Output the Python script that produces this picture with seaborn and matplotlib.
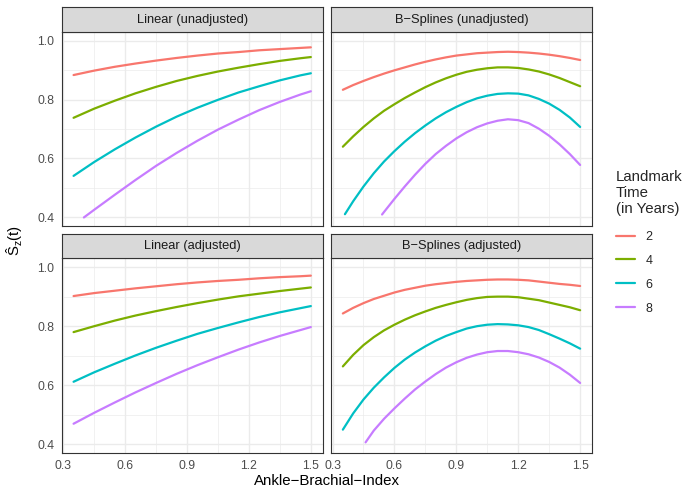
import matplotlib
matplotlib.use("Agg")
import matplotlib.pyplot as plt
from matplotlib.lines import Line2D
from matplotlib.ticker import FixedLocator
import pandas as pd
import seaborn as sns

# ---------------- data ----------------
landmark_times = ["2", "4", "6", "8"]
line_colors = ["#F8766D", "#7CAE00", "#00BFC4", "#C77CFF"]
panel_titles = ["Linear (unadjusted)", "B\u2212Splines (unadjusted)",
                "Linear (adjusted)", "B\u2212Splines (adjusted)"]
x_ticks = [0.3, 0.6, 0.9, 1.2, 1.5]
x_minor = [0.45, 0.75, 1.05, 1.35]
y_ticks = [0.4, 0.6, 0.8, 1.0]
y_minor = [0.5, 0.7, 0.9]

abi_lin = [0.35, 0.45, 0.55, 0.65, 0.75, 0.85, 0.95, 1.05, 1.15, 1.25, 1.35, 1.45, 1.50]
abi_lin_unadj_8 = [0.40, 0.45, 0.55, 0.65, 0.75, 0.85, 0.95, 1.05, 1.15, 1.25, 1.35, 1.45, 1.50]

lin_unadj_2 = [0.883, 0.898, 0.911, 0.922, 0.932, 0.941, 0.949, 0.956, 0.961, 0.967, 0.971, 0.975, 0.977]
lin_unadj_4 = [0.738, 0.769, 0.796, 0.821, 0.843, 0.863, 0.880, 0.895, 0.908, 0.920, 0.931, 0.940, 0.944]
lin_unadj_6 = [0.541, 0.588, 0.631, 0.671, 0.708, 0.742, 0.772, 0.799, 0.824, 0.845, 0.865, 0.882, 0.889]
lin_unadj_8 = [0.400, 0.426, 0.477, 0.527, 0.575, 0.619, 0.660, 0.698, 0.732, 0.764, 0.792, 0.817, 0.828]

lin_adj_2 = [0.902, 0.912, 0.920, 0.928, 0.935, 0.942, 0.948, 0.953, 0.957, 0.962, 0.966, 0.969, 0.971]
lin_adj_4 = [0.780, 0.800, 0.819, 0.836, 0.851, 0.865, 0.878, 0.890, 0.901, 0.910, 0.919, 0.927, 0.931]
lin_adj_6 = [0.612, 0.644, 0.673, 0.701, 0.727, 0.751, 0.774, 0.794, 0.813, 0.831, 0.847, 0.861, 0.868]
lin_adj_8 = [0.470, 0.507, 0.542, 0.576, 0.608, 0.639, 0.668, 0.695, 0.721, 0.745, 0.767, 0.787, 0.797]

abi_spl = [0.35, 0.40, 0.45, 0.50, 0.55, 0.60, 0.65, 0.70, 0.75, 0.80, 0.85, 0.90,
           0.95, 1.00, 1.05, 1.10, 1.15, 1.20, 1.25, 1.30, 1.35, 1.40, 1.45, 1.50]
abi_spl_unadj_6 = [0.36, 0.40, 0.45, 0.50, 0.55, 0.60, 0.65, 0.70, 0.75, 0.80, 0.85, 0.90,
                   0.95, 1.00, 1.05, 1.10, 1.15, 1.20, 1.25, 1.30, 1.35, 1.40, 1.45, 1.50]
abi_spl_unadj_8 = [0.54, 0.55, 0.60, 0.65, 0.70, 0.75, 0.80, 0.85, 0.90, 0.95, 1.00,
                   1.05, 1.10, 1.15, 1.20, 1.25, 1.30, 1.35, 1.40, 1.45, 1.50]
abi_spl_adj_8 = [0.46, 0.50, 0.55, 0.60, 0.65, 0.70, 0.75, 0.80, 0.85, 0.90, 0.95,
                 1.00, 1.05, 1.10, 1.15, 1.20, 1.25, 1.30, 1.35, 1.40, 1.45, 1.50]

spl_unadj_2 = [0.833, 0.849, 0.863, 0.876, 0.888, 0.899, 0.909, 0.919, 0.928, 0.936, 0.943, 0.949,
               0.953, 0.957, 0.959, 0.961, 0.962, 0.961, 0.959, 0.956, 0.952, 0.947, 0.941, 0.934]
spl_unadj_4 = [0.640, 0.675, 0.707, 0.736, 0.762, 0.784, 0.805, 0.824, 0.842, 0.858, 0.872, 0.884,
               0.894, 0.901, 0.906, 0.909, 0.909, 0.907, 0.902, 0.895, 0.885, 0.873, 0.859, 0.845]
spl_unadj_6 = [0.411, 0.455, 0.505, 0.550, 0.590, 0.625, 0.657, 0.686, 0.712, 0.736, 0.757, 0.775,
               0.791, 0.804, 0.813, 0.819, 0.821, 0.820, 0.814, 0.802, 0.786, 0.765, 0.739, 0.707]
spl_unadj_8 = [0.410, 0.419, 0.463, 0.505, 0.545, 0.582, 0.615, 0.643, 0.668, 0.689, 0.706,
               0.719, 0.728, 0.733, 0.730, 0.720, 0.701, 0.677, 0.648, 0.615, 0.578]

spl_adj_2 = [0.843, 0.862, 0.878, 0.892, 0.903, 0.914, 0.923, 0.930, 0.937, 0.942, 0.946, 0.950,
             0.953, 0.955, 0.957, 0.958, 0.958, 0.957, 0.955, 0.951, 0.947, 0.943, 0.940, 0.936]
spl_adj_4 = [0.664, 0.703, 0.736, 0.763, 0.786, 0.805, 0.822, 0.837, 0.850, 0.862, 0.872, 0.881,
             0.889, 0.895, 0.899, 0.900, 0.900, 0.898, 0.893, 0.888, 0.880, 0.872, 0.864, 0.854]
spl_adj_6 = [0.450, 0.505, 0.552, 0.592, 0.627, 0.659, 0.687, 0.711, 0.732, 0.751, 0.767, 0.780,
             0.792, 0.800, 0.805, 0.807, 0.806, 0.803, 0.797, 0.787, 0.773, 0.758, 0.742, 0.724]
spl_adj_8 = [0.407, 0.447, 0.487, 0.522, 0.555, 0.586, 0.613, 0.638, 0.660, 0.678, 0.693,
             0.704, 0.712, 0.716, 0.716, 0.712, 0.705, 0.694, 0.679, 0.660, 0.636, 0.608]

curves = [
    (panel_titles[0], "2", abi_lin, lin_unadj_2),
    (panel_titles[0], "4", abi_lin, lin_unadj_4),
    (panel_titles[0], "6", abi_lin, lin_unadj_6),
    (panel_titles[0], "8", abi_lin_unadj_8, lin_unadj_8),
    (panel_titles[1], "2", abi_spl, spl_unadj_2),
    (panel_titles[1], "4", abi_spl, spl_unadj_4),
    (panel_titles[1], "6", abi_spl_unadj_6, spl_unadj_6),
    (panel_titles[1], "8", abi_spl_unadj_8, spl_unadj_8),
    (panel_titles[2], "2", abi_lin, lin_adj_2),
    (panel_titles[2], "4", abi_lin, lin_adj_4),
    (panel_titles[2], "6", abi_lin, lin_adj_6),
    (panel_titles[2], "8", abi_lin, lin_adj_8),
    (panel_titles[3], "2", abi_spl, spl_adj_2),
    (panel_titles[3], "4", abi_spl, spl_adj_4),
    (panel_titles[3], "6", abi_spl, spl_adj_6),
    (panel_titles[3], "8", abi_spl_adj_8, spl_adj_8),
]
rows = []
for panel, t, xs, ys in curves:
    for xv, yv in zip(xs, ys):
        rows.append({"panel": panel, "time": t, "abi": xv, "surv": yv})
df = pd.DataFrame(rows)

# ---------------- style ----------------
sns.set_style("white")
plt.rcParams["font.family"] = ["Liberation Sans", "DejaVu Sans"]
plt.rcParams["mathtext.fontset"] = "custom"
plt.rcParams["mathtext.rm"] = "Liberation Sans"
plt.rcParams["mathtext.it"] = "Liberation Sans"
plt.rcParams["mathtext.default"] = "regular"

W, H = 698, 498
fig = plt.figure(figsize=(W / 100, H / 100), dpi=100)
fig.patch.set_facecolor("white")

def frac(x0, y0, x1, y1):
    return [x0 / W, 1 - y1 / H, (x1 - x0) / W, (y1 - y0) / H]

col_x = [(61.7, 322.7), (331.0, 592.0)]
row_y = [(31.7, 226.3), (258.2, 453.3)]
strip_h = 24.3
pal = dict(zip(landmark_times, line_colors))

for i, title in enumerate(panel_titles):
    r, c = divmod(i, 2)
    x0, x1 = col_x[c]
    y0, y1 = row_y[r]
    ax = fig.add_axes(frac(x0, y0, x1, y1))
    sub = df[df["panel"] == title]
    sns.lineplot(data=sub, x="abi", y="surv", hue="time", hue_order=landmark_times,
                 palette=pal, ax=ax, legend=False, linewidth=1.6, errorbar=None)
    ax.set_xlim(0.2925, 1.5575)
    ax.set_ylim(0.37, 1.03)
    ax.xaxis.set_major_locator(FixedLocator(x_ticks))
    ax.xaxis.set_minor_locator(FixedLocator(x_minor))
    ax.yaxis.set_major_locator(FixedLocator(y_ticks))
    ax.yaxis.set_minor_locator(FixedLocator(y_minor))
    ax.set_axisbelow(True)
    ax.grid(which="major", color="#EBEBEB", linewidth=1.0)
    ax.grid(which="minor", color="#EBEBEB", linewidth=0.5)
    for sp in ax.spines.values():
        sp.set_color("#333333")
        sp.set_linewidth(0.8)
        sp.set_zorder(5)
    ax.set_xlabel("")
    ax.set_ylabel("")
    ax.tick_params(which="major", direction="out", length=3.0, width=0.75,
                   color="#333333", labelcolor="#4D4D4D", labelsize=8.8)
    ax.tick_params(axis="x", which="major", pad=1.6)
    ax.tick_params(axis="y", which="major", pad=2.2)
    ax.tick_params(which="minor", length=0)
    ax.set_xticklabels([f"{v:.1f}" for v in x_ticks])
    ax.set_yticklabels([f"{v:.1f}" for v in y_ticks])
    if r == 0:
        ax.tick_params(axis="x", which="major", bottom=False, labelbottom=False)
    if c == 1:
        ax.tick_params(axis="y", which="major", left=False, labelleft=False)
    # strip
    sax = fig.add_axes(frac(x0, y0 - strip_h, x1, y0))
    sax.set_facecolor("#D9D9D9")
    sax.set_xticks([])
    sax.set_yticks([])
    for sp in sax.spines.values():
        sp.set_color("#333333")
        sp.set_linewidth(0.8)
    sax.text(0.5, 0.5, title, ha="center", va="center", fontsize=9.3,
             color="#1A1A1A", transform=sax.transAxes)

fig.text(326.7 / W, 1 - 481 / H, "Ankle\u2212Brachial\u2212Index", ha="center", va="center",
         fontsize=10.8, color="black")
fig.text(14.5 / W, 1 - 240 / H, r"$\hat{S}_z(t)$", ha="center", va="center",
         rotation=90, fontsize=10.8, color="black")

handles = [Line2D([], [], color=col, linewidth=1.6) for col in line_colors]
leg = fig.legend(handles, landmark_times, title="Landmark\nTime\n(in Years)",
                 loc="upper left", bbox_to_anchor=(611 / W, 1 - 165 / H),
                 frameon=False, fontsize=9.0, title_fontsize=10.8,
                 handlelength=1.5, handletextpad=0.85, labelspacing=0.95,
                 alignment="left", borderaxespad=0)
leg.get_title().set_linespacing(1.2)
leg._legend_box.sep = 10.5

fig.savefig("out.png", dpi=100)
